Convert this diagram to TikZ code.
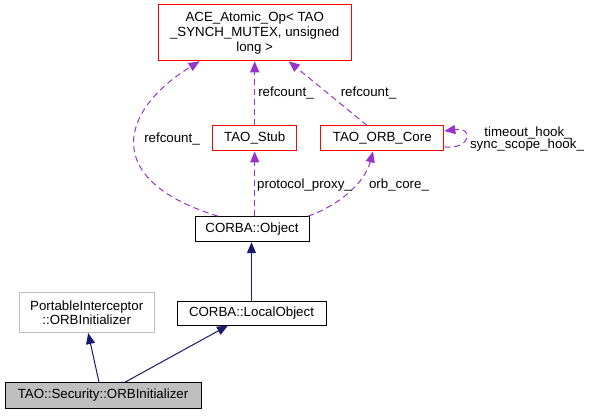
\documentclass[tikz,border=0pt]{standalone}
\usepackage{fontspec}
\setmainfont{Liberation Sans}
\usetikzlibrary{arrows.meta}
\definecolor{dpurple}{HTML}{9A32CD}
\definecolor{mnavy}{HTML}{191970}
\definecolor{gsev}{HTML}{BFBFBF}
\definecolor{bred}{HTML}{FF0000}
\tikzset{
  box/.style={draw=black, line width=1pt, inner sep=0pt, align=center,
    font=\fontsize{13.3}{15}\selectfont},
  redbox/.style={box, draw=bred},
  usesedge/.style={draw=dpurple, line width=1pt, dash pattern=on 6pt off 4pt,
    -{Triangle[length=11pt,width=9pt]}},
  inhedge/.style={draw=mnavy, line width=1pt, -{Triangle[length=11pt,width=9pt]}},
  lbl/.style={font=\fontsize{13.3}{15}\selectfont, anchor=base, inner sep=0pt}
}
\begin{document}
\begin{tikzpicture}[x=1pt,y=-1pt]
\useasboundingbox[fill=white] (0,0) rectangle (591,415);
% nodes
\node[redbox, minimum width=193pt, minimum height=56pt] (ace) at (254.7,32.8)
  {ACE\_Atomic\_Op< TAO\\\_SYNCH\_MUTEX, unsigned\\long >};
\node[redbox, minimum width=84pt, minimum height=25pt] (stub) at (254.7,138.4) {TAO\_Stub};
\node[redbox, minimum width=123pt, minimum height=25pt] (orb) at (382.3,138.4) {TAO\_ORB\_Core};
\node[box, minimum width=114pt, minimum height=25pt] (obj) at (252,229.2) {CORBA::Object};
\node[box, minimum width=149pt, minimum height=24pt] (lo) at (251.5,313) {CORBA::LocalObject};
\node[box, draw=gsev, font=\fontsize{13.3}{14}\selectfont, minimum width=135pt, minimum height=40pt] (pi) at (86.7,312.5)
  {PortableInterceptor\\::ORBInitializer};
\node[box, fill=gsev, minimum width=196pt, minimum height=25.6pt] (sec) at (103,395.5)
  {TAO::Security::ORBInitializer};
% uses edges
\draw[usesedge] ([xshift=-34pt]obj.north) .. controls (100,180) and (120,110) .. ([xshift=-55pt]ace.south);
\draw[usesedge] (stub.north) -- (stub.north |- ace.south);
\draw[usesedge] ([xshift=-15.3pt]orb.north) -- ([xshift=34pt]ace.south);
\draw[usesedge] ([yshift=-8.5pt]orb.east) .. controls (470,150) and (475,127) .. ([yshift=7.4pt]orb.east);
\draw[usesedge] (stub.south |- obj.north) -- (stub.south);
\draw[usesedge] ([xshift=56pt]obj.north) .. controls (340,205) and (365,182) .. ([xshift=-9.3pt]orb.south);
% inheritance edges
\draw[inhedge] (lo.north) -- (lo.north |- obj.south);
\draw[inhedge] ([xshift=-4pt]sec.north) -- ([xshift=1.5pt]pi.south);
\draw[inhedge] ([xshift=22pt]sec.north) -- ([xshift=-23.5pt]lo.south);
% labels
\node[lbl] (l1) at (172,142.7) {refcount\_};
\node[lbl] (l2) at (286,96.7) {refcount\_};
\node[lbl] (l3) at (368.5,96.7) {refcount\_};
\node[lbl] (l4) at (304.5,188.7) {protocol\_proxy\_};
\node[lbl] (l5) at (399,188.7) {orb\_core\_};
\node[lbl] (l6) at (528,136) {timeout\_hook\_};
\node[lbl] (l7) at (527,148.3) {sync\_scope\_hook\_};
\end{tikzpicture}
\end{document}
